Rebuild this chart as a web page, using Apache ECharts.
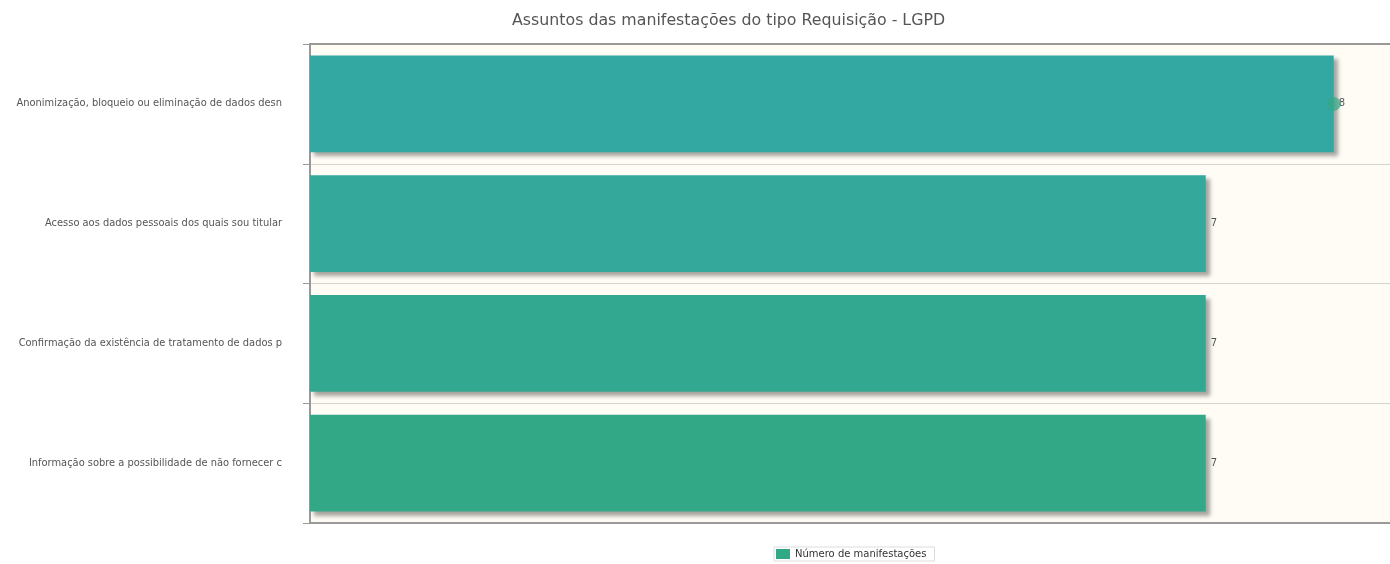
<!DOCTYPE html>
<html><head><meta charset="utf-8">
<script src="https://cdn.jsdelivr.net/npm/echarts@6/dist/echarts.min.js"></script>
<style>html,body{margin:0;padding:0;background:#fff}#c{width:1390px;height:564px}</style>
</head><body><div id="c"></div>
<script>
const titleText = 'Assuntos das manifestações do tipo Requisição - LGPD';
const seriesName = 'Número de manifestações';
const categories = [
  'Anonimização, bloqueio ou eliminação de dados desn',
  'Acesso aos dados pessoais dos quais sou titular',
  'Confirmação da existência de tratamento de dados p',
  'Informação sobre a possibilidade de não fornecer c'
];
const values = [8, 7, 7, 7];
const barColors = ['#33a7a1', '#33a89b', '#33a891', '#33a886'];

const chart = echarts.init(document.getElementById('c'));
const valueAxisBase = {
  type: 'value', min: 0, max: 8.44,
  axisLabel: {show: false}, axisTick: {show: false},
  axisLine: {show: true, lineStyle: {color: '#999', width: 2}},
  splitLine: {show: false}
};
chart.setOption({
  animation: false,
  title: {
    text: titleText, left: 507, top: 8,
    textStyle: {fontFamily: 'DejaVu Sans', fontSize: 15.8, fontWeight: 'normal', color: '#555'}
  },
  legend: {
    data: [{name: seriesName, icon: 'rect'}],
    left: 774, top: 547,
    itemWidth: 14, itemHeight: 10, itemGap: 4,
    borderColor: '#ddd', borderWidth: 1, padding: [2, 8, 2, 2],
    textStyle: {fontFamily: 'DejaVu Sans', fontSize: 10, color: '#333'}
  },
  grid: {
    left: 310, top: 44, right: -10, bottom: 41,
    show: true, backgroundColor: '#fffcf5', borderWidth: 0
  },
  xAxis: [
    Object.assign({position: 'top'}, valueAxisBase),
    Object.assign({position: 'bottom'}, valueAxisBase)
  ],
  yAxis: {
    type: 'category', data: categories, inverse: true,
    axisLine: {show: true, lineStyle: {color: '#999', width: 2}},
    axisTick: {show: true, length: 7, lineStyle: {color: '#999'}},
    splitLine: {show: true, lineStyle: {color: '#d4d4d4'}},
    axisLabel: {margin: 28, fontFamily: 'DejaVu Sans', fontSize: 9.9, color: '#555'}
  },
  series: [{
    name: seriesName, type: 'bar', barCategoryGap: '19%', xAxisIndex: 0,
    data: values.map((v, i) => ({value: v, itemStyle: {color: barColors[i]}})),
    itemStyle: {shadowColor: 'rgba(0,0,0,0.35)', shadowBlur: 4, shadowOffsetX: 4, shadowOffsetY: 4},
    label: {show: true, position: 'right', distance: 5, fontFamily: 'DejaVu Sans', fontSize: 10, color: '#555'},
    markPoint: {
      data: [{type: 'max', valueDim: 'x'}],
      symbol: 'circle', symbolSize: 14,
      itemStyle: {color: 'rgba(51,168,134,0.7)', shadowBlur: 0},
      label: {show: false}
    }
  }],
  color: ['#33a886']
});
</script></body></html>
